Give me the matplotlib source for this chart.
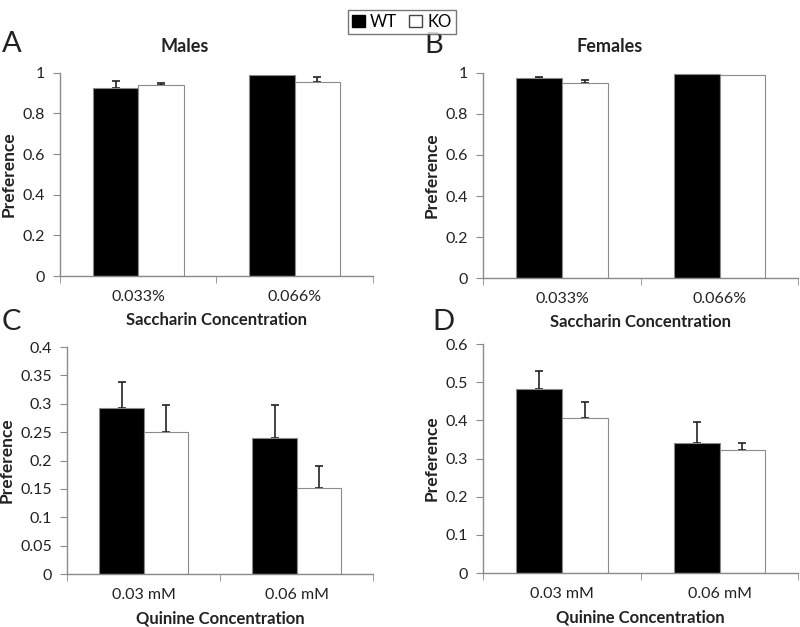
import matplotlib
matplotlib.use("Agg")
import matplotlib.pyplot as plt
from matplotlib.patches import Patch
import numpy as np

plt.rcParams['font.family'] = ['Lato', 'DejaVu Sans']

groups = ["WT", "KO"]
sacc_cats = ["0.033%", "0.066%"]
quin_cats = ["0.03 mM", "0.06 mM"]

males_wt = [0.924, 0.990]
males_wt_err = [0.038, 0.0]
males_ko = [0.941, 0.956]
males_ko_err = [0.011, 0.023]

females_wt = [0.974, 0.993]
females_wt_err = [0.005, 0.0]
females_ko = [0.953, 0.989]
females_ko_err = [0.013, 0.0]

quin_m_wt = [0.293, 0.240]
quin_m_wt_err = [0.046, 0.058]
quin_m_ko = [0.250, 0.152]
quin_m_ko_err = [0.048, 0.039]

quin_f_wt = [0.482, 0.342]
quin_f_wt_err = [0.048, 0.054]
quin_f_ko = [0.406, 0.323]
quin_f_ko_err = [0.043, 0.018]

fig = plt.figure(figsize=(8, 6.27), dpi=100)

gray = "#8a8a8a"
txt = "#222222"

def errs(ax, xs, vals, es):
    xs = np.asarray(xs); vals = np.asarray(vals); es = np.asarray(es)
    m = es > 0
    if m.any():
        ax.errorbar(xs[m], vals[m], yerr=[np.zeros(m.sum()), es[m]], fmt="none", ecolor="#222222",
                    elinewidth=1.2, capsize=3, capthick=1.2, zorder=1)

def panel(rect, cats, wt, wte, ko, koe, ylim, yticks, yfmt, title, xlabel, letter, letter_pos):
    ax = fig.add_axes(rect)
    x = np.arange(len(cats))
    w = 0.29
    ax.bar(x - w/2, wt, w, color="black", edgecolor=gray, linewidth=0.8, zorder=2)
    ax.bar(x + w/2, ko, w, color="white", edgecolor=gray, linewidth=0.8, zorder=2)
    errs(ax, x - w/2, wt, wte)
    errs(ax, x + w/2, ko, koe)
    ax.set_xlim(-0.5, len(cats) - 0.5)
    ax.set_ylim(*ylim)
    ax.set_yticks(yticks)
    ax.set_yticklabels([yfmt(v) for v in yticks])
    ax.set_xticks(x)
    ax.set_xticklabels(cats)
    ax.set_xticks(np.arange(-0.5, len(cats)), minor=True)
    ax.tick_params(axis="x", which="major", length=0, pad=10, labelsize=11.5, labelcolor=txt)
    ax.tick_params(axis="x", which="minor", length=5, color=gray, direction="out")
    ax.tick_params(axis="y", length=5, color=gray, labelsize=11.5, labelcolor=txt, pad=6)
    for s in ["top", "right"]:
        ax.spines[s].set_visible(False)
    for s in ["left", "bottom"]:
        ax.spines[s].set_color(gray)
        ax.spines[s].set_linewidth(1.0)
    ax.set_ylabel("Preference", fontsize=12.5, fontweight="bold", color=txt, labelpad=4)
    ax.set_xlabel(xlabel, fontsize=12, fontweight="bold", color=txt, labelpad=6)
    if title:
        ax.set_title(title, fontsize=13, fontweight="bold", color=txt, pad=15, x=0.40)
    fig.text(letter_pos[0], letter_pos[1], letter, fontsize=21, color=txt, ha="left", va="center")
    return ax

fmt_s = lambda v: "0" if v == 0 else ("1" if v == 1 else f"{v:g}")

panel([0.075, 0.5598, 0.391, 0.324], sacc_cats, males_wt, males_wt_err, males_ko, males_ko_err,
      (0, 1), [0, 0.2, 0.4, 0.6, 0.8, 1.0], fmt_s, "Males", "Saccharin Concentration", "A", (0.002, 1 - 44/627))
panel([0.604, 0.5566, 0.394, 0.327], sacc_cats, females_wt, females_wt_err, females_ko, females_ko_err,
      (0, 1), [0, 0.2, 0.4, 0.6, 0.8, 1.0], fmt_s, "Females", "Saccharin Concentration", "B", (0.531, 1 - 45/627))
panel([0.084, 0.0845, 0.3825, 0.362], quin_cats, quin_m_wt, quin_m_wt_err, quin_m_ko, quin_m_ko_err,
      (0, 0.4), [0, 0.05, 0.1, 0.15, 0.2, 0.25, 0.3, 0.35, 0.4], fmt_s, None, "Quinine Concentration", "C", (0.002, 1 - 322/627))
panel([0.604, 0.0861, 0.394, 0.365], quin_cats, quin_f_wt, quin_f_wt_err, quin_f_ko, quin_f_ko_err,
      (0, 0.6), [0, 0.1, 0.2, 0.3, 0.4, 0.5, 0.6], fmt_s, None, "Quinine Concentration", "D", (0.540, 1 - 322/627))

handles = [Patch(facecolor="black", edgecolor="black", label=groups[0]),
           Patch(facecolor="white", edgecolor="#444444", label=groups[1])]
leg = fig.legend(handles=handles, loc="upper center", bbox_to_anchor=(0.502, 0.998), ncol=2,
                 fontsize=12, frameon=True, fancybox=False, edgecolor="#555555",
                 handlelength=0.8, handleheight=0.8, handletextpad=0.3, columnspacing=0.7,
                 borderpad=0.25)
leg.get_frame().set_linewidth(1.0)

fig.savefig("out.png", dpi=100)
